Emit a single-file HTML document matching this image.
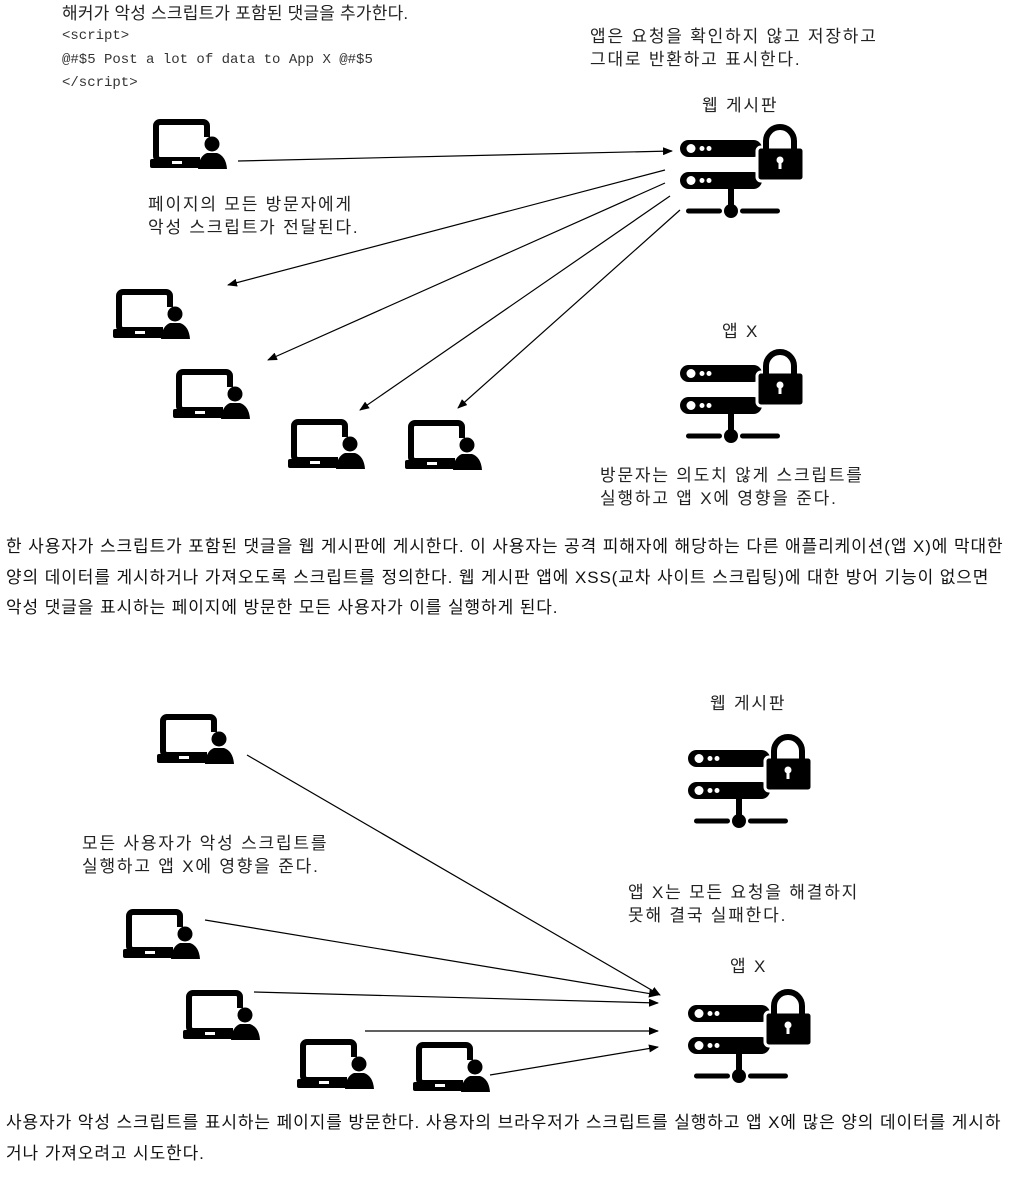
<!DOCTYPE html>
<html><head><meta charset="utf-8"><style>
body{margin:0;width:1029px;height:1181px;background:#fff;position:relative;overflow:hidden;font-family:"Liberation Sans","Noto Sans CJK KR",sans-serif;color:#222}
.t{position:absolute;font-size:17px;letter-spacing:1.8px;line-height:23px;white-space:nowrap}
.m{position:absolute;font-family:"Liberation Mono",monospace;font-size:14px;white-space:nowrap;color:#333}
.p{position:absolute;left:6px;font-size:17px;letter-spacing:0.9px;line-height:30.5px;white-space:nowrap;color:#111}
svg{position:absolute;left:0;top:0}
</style></head><body>
<svg width="1029" height="1181">
<defs>
<symbol id="lp" viewBox="0 0 80 55" overflow="visible">
<rect x="6" y="5" width="51" height="38" rx="4" fill="none" stroke="#000" stroke-width="6"/>
<rect x="0" y="42" width="52" height="9" rx="2" fill="#000"/>
<rect x="22" y="44" width="10" height="3" fill="#fff"/>
<rect x="50" y="20" width="20" height="34" fill="#fff"/>
<circle cx="62" cy="27" r="7.5" fill="#000"/>
<path d="M48 52 Q49 39 57 36 L67 36 Q76 39 77 52 Z" fill="#000"/>
</symbol>
<symbol id="sv" viewBox="0 0 125 95" overflow="visible">
<rect x="0" y="15" width="82" height="17" rx="8.5" fill="#000"/>
<rect x="0" y="47" width="82" height="17" rx="8.5" fill="#000"/>
<circle cx="11" cy="23.5" r="4.5" fill="#fff"/><circle cx="22" cy="23.5" r="2.5" fill="#fff"/><circle cx="29" cy="23.5" r="2.5" fill="#fff"/>
<circle cx="11" cy="55.5" r="4.5" fill="#fff"/><circle cx="22" cy="55.5" r="2.5" fill="#fff"/><circle cx="29" cy="55.5" r="2.5" fill="#fff"/>
<rect x="77" y="22" width="47" height="34" rx="4" fill="#000" stroke="#fff" stroke-width="3"/>
<path d="M86 24 V16 A14 14 0 0 1 114 16 V24" fill="none" stroke="#000" stroke-width="6"/>
<circle cx="100" cy="35" r="3.5" fill="#fff"/><rect x="98.5" y="35" width="3" height="9" fill="#fff"/>
<rect x="48" y="64" width="6" height="22" fill="#000"/>
<circle cx="51" cy="86" r="7" fill="#000"/>
<rect x="6" y="83.5" width="36" height="5" rx="2.5" fill="#000"/>
<rect x="60" y="83.5" width="40" height="5" rx="2.5" fill="#000"/>
</symbol>
<marker id="a" markerWidth="10" markerHeight="8" refX="9" refY="4" orient="auto" markerUnits="userSpaceOnUse"><path d="M0 0 L10 4 L0 8 Z" fill="#000"/></marker>
</defs>
<use href="#lp" x="150" y="117" width="80" height="55"/>
<use href="#lp" x="113" y="287" width="80" height="55"/>
<use href="#lp" x="173" y="367" width="80" height="55"/>
<use href="#lp" x="288" y="417" width="80" height="55"/>
<use href="#lp" x="405" y="418" width="80" height="55"/>
<use href="#sv" x="680" y="125" width="125" height="95"/>
<use href="#sv" x="680" y="350" width="125" height="95"/>
<use href="#lp" x="157" y="712" width="80" height="55"/>
<use href="#lp" x="123" y="907" width="80" height="55"/>
<use href="#lp" x="183" y="988" width="80" height="55"/>
<use href="#lp" x="297" y="1037" width="80" height="55"/>
<use href="#lp" x="413" y="1040" width="80" height="55"/>
<use href="#sv" x="688" y="735" width="125" height="95"/>
<use href="#sv" x="688" y="990" width="125" height="95"/>
<g stroke="#000" stroke-width="1.2" marker-end="url(#a)">
<line x1="238" y1="161" x2="672" y2="151"/>
<line x1="665" y1="170" x2="228" y2="285"/>
<line x1="665" y1="183" x2="268" y2="360"/>
<line x1="670" y1="196" x2="360" y2="410"/>
<line x1="680" y1="210" x2="458" y2="408"/>
<line x1="247" y1="755" x2="660" y2="995"/>
<line x1="205" y1="920" x2="658" y2="995"/>
<line x1="254" y1="992" x2="658" y2="1003"/>
<line x1="365" y1="1031" x2="658" y2="1031"/>
<line x1="490" y1="1075" x2="658" y2="1047"/>
</g>
</svg>
<div class="t" style="left:62px;top:2px;letter-spacing:0.2px">해커가 악성 스크립트가 포함된 댓글을 추가한다.</div>
<div class="m" style="left:62px;top:28px">&lt;script&gt;</div>
<div class="m" style="left:62px;top:52px">@#$5 Post a lot of data to App X @#$5</div>
<div class="m" style="left:62px;top:75px">&lt;/script&gt;</div>
<div class="t" style="left:590px;top:25px">앱은 요청을 확인하지 않고 저장하고<br>그대로 반환하고 표시한다.</div>
<div class="t" style="left:702px;top:94px">웹 게시판</div>
<div class="t" style="left:148px;top:193px">페이지의 모든 방문자에게<br>악성 스크립트가 전달된다.</div>
<div class="t" style="left:722px;top:320px">앱 X</div>
<div class="t" style="left:600px;top:464px">방문자는 의도치 않게 스크립트를<br>실행하고 앱 X에 영향을 준다.</div>
<div class="p" style="top:532px">한 사용자가 스크립트가 포함된 댓글을 웹 게시판에 게시한다. 이 사용자는 공격 피해자에 해당하는 다른 애플리케이션(앱 X)에 막대한<br>양의 데이터를 게시하거나 가져오도록 스크립트를 정의한다. 웹 게시판 앱에 XSS(교차 사이트 스크립팅)에 대한 방어 기능이 없으면<br>악성 댓글을 표시하는 페이지에 방문한 모든 사용자가 이를 실행하게 된다.</div>
<div class="t" style="left:710px;top:692px">웹 게시판</div>
<div class="t" style="left:82px;top:832px">모든 사용자가 악성 스크립트를<br>실행하고 앱 X에 영향을 준다.</div>
<div class="t" style="left:628px;top:881px">앱 X는 모든 요청을 해결하지<br>못해 결국 실패한다.</div>
<div class="t" style="left:730px;top:955px">앱 X</div>
<div class="p" style="top:1108px">사용자가 악성 스크립트를 표시하는 페이지를 방문한다. 사용자의 브라우저가 스크립트를 실행하고 앱 X에 많은 양의 데이터를 게시하<br>거나 가져오려고 시도한다.</div>
</body></html>
